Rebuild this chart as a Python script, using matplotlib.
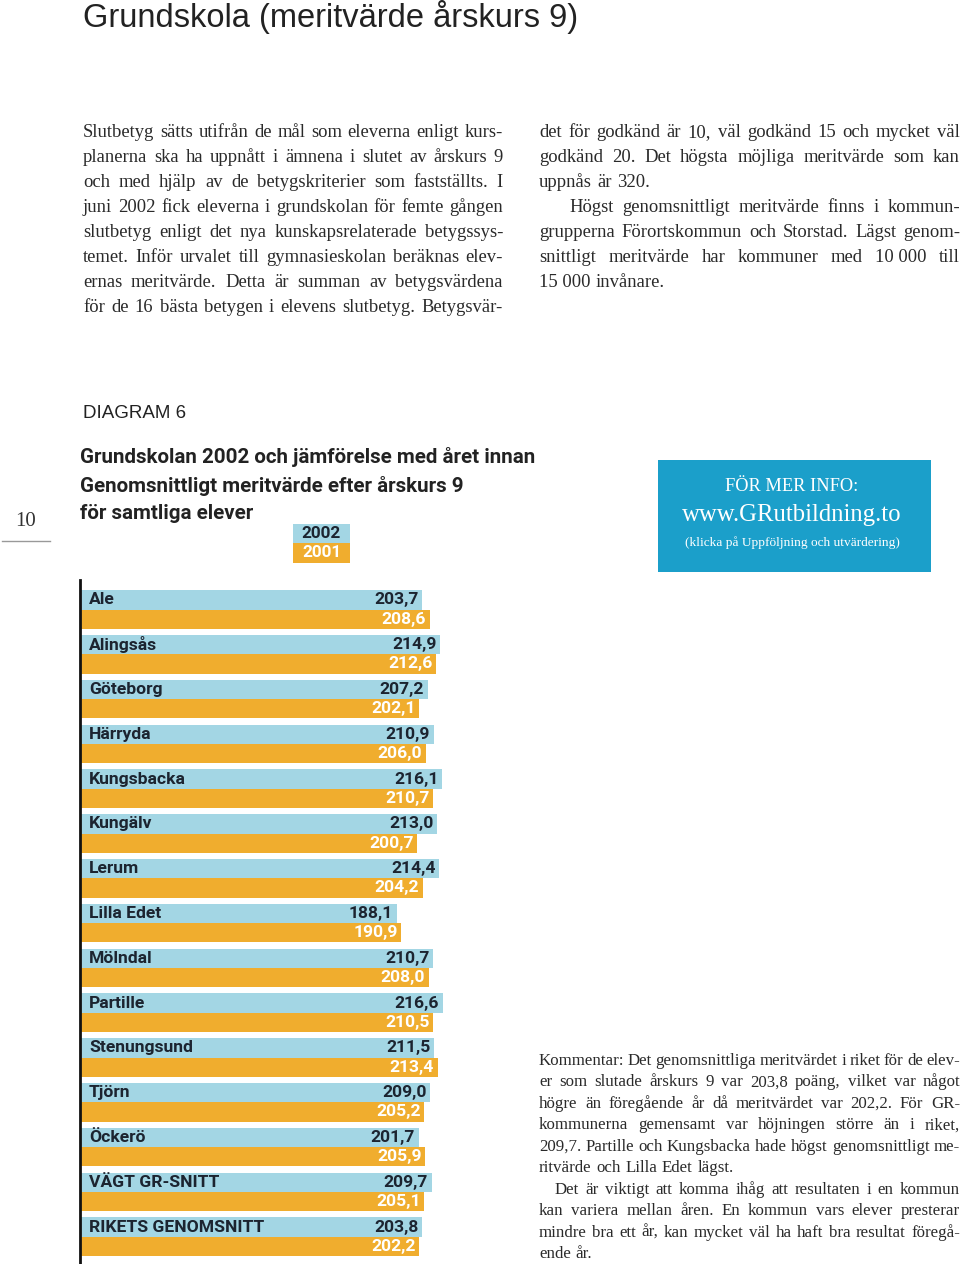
import numpy as np
import matplotlib
matplotlib.use("Agg")
import matplotlib.pyplot as plt
from matplotlib.patches import Rectangle
from matplotlib.lines import Line2D

# ---------------- DATA ---------------- #
categories = ["Ale", "Alingsås", "Göteborg", "Härryda", "Kungsbacka", "Kungälv",
              "Lerum", "Lilla Edet", "Mölndal", "Partille", "Stenungsund", "Tjörn",
              "Öckerö", "VÄGT GR-SNITT", "RIKETS GENOMSNITT"]
v2002 = [203.7, 214.9, 207.2, 210.9, 216.1, 213.0, 214.4, 188.1, 210.7, 216.6,
         211.5, 209.0, 201.7, 209.7, 203.8]
v2001 = [208.6, 212.6, 202.1, 206.0, 210.7, 200.7, 204.2, 190.9, 208.0, 210.5,
         213.4, 205.2, 205.9, 205.1, 202.2]
years = ["2002", "2001"]

left_col = [
    "Slutbetyg sätts utifrån de mål som eleverna enligt kurs-",
    "planerna ska ha uppnått i ämnena i slutet av årskurs 9",
    "och med hjälp av de betygskriterier som fastställts. I",
    "juni 2002 fick eleverna i grundskolan för femte gången",
    "slutbetyg enligt det nya kunskapsrelaterade betygssys-",
    "temet. Inför urvalet till gymnasieskolan beräknas elev-",
    "ernas meritvärde. Detta är summan av betygsvärdena",
    "för de 16 bästa betygen i elevens slutbetyg. Betygsvär-",
]
right_col = [
    "det för godkänd är 10, väl godkänd 15 och mycket väl",
    "godkänd 20. Det högsta möjliga meritvärde som kan",
    "uppnås är 320.",
    "Högst genomsnittligt meritvärde finns i kommun-",
    "grupperna Förortskommun och Storstad. Lägst genom-",
    "snittligt meritvärde har kommuner med 10\u00a0000 till",
    "15\u00a0000 invånare.",
]
comment = [
    "Kommentar: Det genomsnittliga meritvärdet i riket för de elev-",
    "er som slutade årskurs 9 var 203,8 poäng, vilket var något",
    "högre än föregående år då meritvärdet var 202,2. För GR-",
    "kommunerna gemensamt var höjningen större än i riket,",
    "209,7. Partille och Kungsbacka hade högst genomsnittligt me-",
    "ritvärde och Lilla Edet lägst.",
    "Det är viktigt att komma ihåg att resultaten i en kommun",
    "kan variera mellan åren. En kommun vars elever presterar",
    "mindre bra ett år, kan mycket väl ha haft bra resultat föregå-",
    "ende år.",
]

# ---------------- STYLE ---------------- #
BLUE = "#a3d6e4"
ORANGE = "#f0ad2e"
DARK = "#1c2430"
INFO = "#1b9fca"
W, H = 960, 1264

fig = plt.figure(figsize=(W / 100, H / 100), dpi=100)
renderer = fig.canvas.get_renderer()


def fx(x):
    return x / W


def fy(y):
    return 1 - y / H


def text_width(s, **kw):
    t = fig.text(0, 0, s, **kw)
    w = t.get_window_extent(renderer).width
    t.remove()
    return w


def paragraph(lines, x0, x1, y0, pitch, last, indent, **kw):
    # justified text, word by word
    for i, line in enumerate(lines):
        words = line.split(" ")
        widths = [text_width(w, **kw) for w in words]
        start = x0 + indent.get(i, 0)
        if i in last or len(words) == 1:
            gap = text_width("n", **kw) * 0.55
        else:
            gap = (x1 - start - sum(widths)) / (len(words) - 1)
        x = start
        for w, wd in zip(words, widths):
            fig.text(fx(x), fy(y0 + i * pitch), w, ha="left", va="baseline", **kw)
            x += wd + gap


# ---------------- PAGE TEXT ---------------- #
fig.text(fx(83), fy(17), "Grundskola (meritvärde årskurs 9)",
         family="Liberation Sans", fontsize=23.5,
         color="#222222", va="center", ha="left")

serif = dict(family="Liberation Serif", fontsize=13.4, color="#2a2a2a")
paragraph(left_col, 83, 503, 137, 25, last=set(), indent={}, **serif)
paragraph(right_col, 539, 960, 137, 25, last={2, 6}, indent={3: 30}, **serif)

small = dict(family="Liberation Serif", fontsize=12.2, color="#2a2a2a")
paragraph(comment, 539, 960, 1065, 21.45, last={5, 9}, indent={6: 16}, **small)

# page number
fig.text(fx(26), fy(521), "10", family="Liberation Serif", fontsize=15,
         color="#333333", ha="center", va="center")
fig.add_artist(Line2D([fx(2), fx(50)], [fy(541), fy(541)], color="#999999", lw=1))

fig.text(fx(83), fy(413), "DIAGRAM 6", family="Liberation Sans", fontsize=13.5,
         color="#222222", ha="left", va="center")

title_lines = ["Grundskolan 2002 och jämförelse med året innan",
               "Genomsnittligt meritvärde efter årskurs 9",
               "för samtliga elever"]
for i, s in enumerate(title_lines):
    fig.text(fx(80), fy(457 + i * 28.5), s, family="Roboto", fontweight="bold",
             fontsize=14.8, color="#222222", ha="left", va="center")

# legend boxes
for i, (yr, col, tc) in enumerate(zip(years, [BLUE, ORANGE], [DARK, "white"])):
    fig.add_artist(Rectangle((fx(293), fy(543 + i * 19.5)), 57 / W, 19.5 / H,
                             facecolor=col, edgecolor="none"))
    fig.text(fx(321.5), fy(533 + i * 19.5), yr, family="Roboto", fontweight="bold",
             fontsize=12.3, color=tc, ha="center", va="center")

# info box
fig.add_artist(Rectangle((fx(658), fy(572)), 273 / W, 112 / H,
                         facecolor=INFO, edgecolor="none"))
fig.text(fx(792), fy(486), "FÖR MER INFO:", family="Liberation Serif",
         fontsize=13.2, color="white", ha="center", va="center")
fig.text(fx(792), fy(515), "www.GRutbildning.to", family="Liberation Serif",
         fontsize=17.8, color="white", ha="center", va="center")
fig.text(fx(792), fy(543), "(klicka på Uppföljning och utvärdering)",
         family="Liberation Serif", fontsize=9.6, color="white",
         ha="center", va="center")

# ---------------- BAR CHART ---------------- #
PX = 1.616          # pixels per value unit
ZERO = 92.7         # pixel x of value 0
ax_l, ax_r = 80, 520
xmin = (ax_l - ZERO) / PX
xmax = (ax_r - ZERO) / PX
ax = fig.add_axes([fx(ax_l), 0, (ax_r - ax_l) / W, 684 / H])

y = np.arange(len(categories))
bh = 0.43
ax.barh(y - bh / 2, np.array(v2002) - xmin, left=xmin, height=bh,
        color=BLUE, edgecolor="none")
ax.barh(y + bh / 2, np.array(v2001) - xmin, left=xmin, height=bh,
        color=ORANGE, edgecolor="none")

lab = dict(family="Roboto", fontweight="bold", fontsize=12.6, va="center")
for i, name in enumerate(categories):
    ax.annotate(name, (xmin, y[i] - bh / 2), xytext=(6.5, 0),
                textcoords="offset points", ha="left", color=DARK, **lab)
    ax.annotate(f"{v2002[i]:.1f}".replace(".", ","), (v2002[i], y[i] - bh / 2),
                xytext=(-2.5, 0), textcoords="offset points", ha="right",
                color=DARK, **lab)
    ax.annotate(f"{v2001[i]:.1f}".replace(".", ","), (v2001[i], y[i] + bh / 2),
                xytext=(-2.5, 0), textcoords="offset points", ha="right",
                color="white", **lab)

ax.set_xlim(xmin, xmax)
ax.set_ylim(14.61, -0.66)
for s in ["top", "right", "bottom"]:
    ax.spines[s].set_visible(False)
ax.spines["left"].set_linewidth(2)
ax.spines["left"].set_color("#111111")
ax.set_xticks([])
ax.set_yticks([])
ax.patch.set_alpha(0)

fig.savefig("out.png", dpi=100)
